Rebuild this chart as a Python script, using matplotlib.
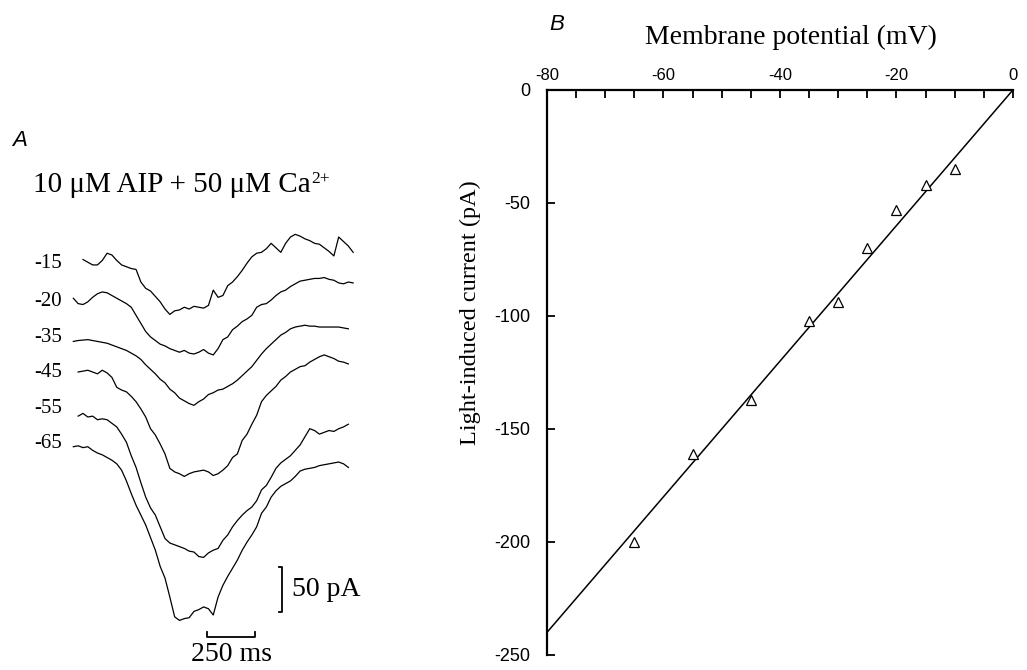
import numpy as np
import matplotlib
matplotlib.use("Agg")
import matplotlib.pyplot as plt

plt.rcParams['font.family'] = ['Liberation Sans', 'DejaVu Sans']
plt.rcParams['axes.unicode_minus'] = False

nan = np.nan

# panel A: current traces (pA, relative to baseline), sampled every 25 ms
time_ms = [0, 25, 50, 75, 100, 125, 150, 175, 200, 225, 250, 275, 300, 325, 350,
           375, 400, 425, 450, 475, 500, 525, 550, 575, 600, 625, 650, 675, 700,
           725, 750, 775, 800, 825, 850, 875, 900, 925, 950, 975, 1000, 1025, 1050,
           1075, 1100, 1125, 1150, 1175, 1200, 1225, 1250, 1275, 1300, 1325, 1350,
           1375, 1400, 1425, 1450]

trace_m15 = [nan, nan, -1, -4, -7, -7, -2, 6, 4, -2, -7, -9, -11, -12, -26, -33, -36,
             -42, -48, -56, -62, -58, -57, -54, -56, -53, -54, -55, -52, -35, -43, -41,
             -30, -26, -20, -13, -5, 2, 6, 7, 11, 17, 12, 7, 17, 24, 27, 25, 22, 20, 17,
             16, 12, 8, 3, 24, 19, 14, 7]
trace_m20 = [0, -6, -7, -4, 1, 5, 7, 6, 3, 0, -3, -6, -10, -19, -28, -37, -43, -47,
             -51, -53, -56, -58, -60, -58, -61, -62, -60, -57, -61, -63, -56, -46, -43,
             -35, -31, -26, -23, -19, -10, -7, -6, -2, 3, 7, 9, 13, 16, 19, 20, 21, 22,
             22, 23, 21, 20, 17, 16, 18, 17]
trace_m35 = [0, 1, 1.5, 2, 1, 0, -1, -2, -4, -6, -8, -10, -13, -16, -20, -26, -31, -36,
             -42, -46, -53, -57, -63, -66, -69, -71, -67, -64, -59, -57, -54, -53, -50,
             -47, -43, -38, -33, -28, -21, -14, -8, -3, 2, 7, 10, 14, 16, 17, 18, 17, 17,
             16, 16, 16, 16, 16, 15, 14, nan]
trace_m45 = [nan, 0, 1, 2, 0, -2, 2, -1, -6, -17, -20, -22, -27, -33, -41, -50, -63,
             -70, -80, -91, -107, -111, -113, -116, -113, -111, -110, -109, -111, -115,
             -113, -109, -104, -95, -91, -76, -69, -58, -48, -33, -26, -21, -16, -9, -5,
             0, 3, 6, 7, 11, 14, 17, 19, 17, 15, 12, 11, 9, nan]
trace_m55 = [nan, 1, 4, 0, 1, -3, -2, -3, -7, -11, -19, -28, -43, -56, -73, -89, -101,
             -109, -122, -135, -140, -142, -144, -146, -149, -150, -155, -156, -151, -148,
             -146, -137, -131, -122, -115, -109, -104, -100, -93, -81, -76, -67, -57, -51,
             -47, -43, -37, -31, -22, -13, -15, -19, -17, -15, -16, -13, -11, -8, nan]
trace_m65 = [0, 1, -1, 0, -4, -7, -9, -12, -15, -19, -26, -38, -52, -65, -76, -87, -101,
             -115, -133, -146, -167, -189, -193, -191, -190, -183, -181, -178, -180, -187,
             -167, -154, -144, -135, -126, -115, -106, -98, -89, -74, -67, -56, -49, -44,
             -41, -38, -33, -27, -25, -24, -23, -21, -20, -19, -18, -17, -19, -23, nan]

traces = [trace_m15, trace_m20, trace_m35, trace_m45, trace_m55, trace_m65]
trace_labels = ['-15', '-20', '-35', '-45', '-55', '-65']

# panel B: I-V relation
volt_mv = [-65, -55, -45, -35, -30, -25, -20, -15, -10]
curr_pa = [-200, -161, -137, -102, -94, -70, -53, -42, -35]
fit_mv = [-80, 0]
fit_pa = [-240, 0]

# layout
trace_offsets = [446, 402, 354, 320, 270, 237]
label_y = [441, 398, 358, 319, 280, 241]

fig = plt.figure(figsize=(10.27, 6.70), dpi=100)

# ---- panel A
axA = fig.add_axes([0.0, 0.0149, 0.37, 0.6418])
for tr, off in zip(traces, trace_offsets):
    axA.plot(time_ms, np.array(tr, dtype=float) + off, color='k', lw=0.9)
for lab, ly in zip(trace_labels, label_y):
    axA.text(-204, ly, lab, ha='left', va='center', fontsize=15,
             family='Liberation Serif')

# scale bars
axA.plot([1066, 1081, 1081, 1066], [103.7, 103.7, 53.7, 53.7], color='k', lw=1.3)
axA.text(1133, 77.8, '50 pA', ha='left', va='center', fontsize=20,
         family='Liberation Serif')
axA.plot([691, 691, 941, 941], [31, 25.9, 25.9, 31], color='k', lw=1.3)
axA.text(820, 5.6, '250 ms', ha='center', va='center', fontsize=20,
         family='Liberation Serif')
axA.set_xlim(-380, 1589)
axA.set_ylim(0, 477.8)
axA.axis('off')

fig.text(0.0117, 0.7826, 'A', fontsize=16, style='italic', ha='left', va='baseline')
cond = fig.text(0.0321, 0.714, '10 μM AIP + 50 μM Ca', fontsize=21,
                family='Liberation Serif', ha='left', va='baseline')
# superscript placed right after the main text
fig.canvas.draw()
bb = cond.get_window_extent()
fig.text(bb.x1 / fig.bbox.width + 0.001, 0.714 + 9 / 670, '2+', fontsize=12.5,
         family='Liberation Serif', ha='left', va='baseline')

# ---- panel B
axB = fig.add_axes([0.5326, 0.0224, 0.4537, 0.8433])
axB.plot(fit_mv, fit_pa, color='k', lw=1.1, clip_on=False)
axB.plot(volt_mv, curr_pa, ls='none', marker='^', ms=6.5, mfc='white', mec='k', mew=0.9)
axB.set_xlim(-80, 0)
axB.set_ylim(-250, 0)
axB.spines['right'].set_visible(False)
axB.spines['bottom'].set_visible(False)
axB.spines['left'].set_linewidth(1.6)
axB.spines['top'].set_linewidth(1.6)
axB.xaxis.tick_top()
axB.set_xticks([-80, -60, -40, -20, 0])
axB.set_xticks(np.arange(-80, 1, 5), minor=True)
axB.set_yticks([0, -50, -100, -150, -200, -250])
axB.tick_params(axis='x', which='both', direction='in', length=6, width=1.3,
                top=True, bottom=False, labeltop=True, labelbottom=False,
                pad=5, labelsize=12)
axB.tick_params(axis='y', direction='in', length=6, width=1.3, pad=12, labelsize=13)

fig.text(0.5346, 0.955, 'B', fontsize=16, style='italic', ha='left', va='baseline')
fig.text(0.770, 0.935, 'Membrane potential (mV)', fontsize=20,
         family='Liberation Serif', ha='center', va='baseline')
fig.text(0.4576, 0.5336, 'Light-induced current (pA)', fontsize=17.5, rotation=90,
         family='Liberation Serif', ha='center', va='center')

fig.savefig('out.png', dpi=100)
